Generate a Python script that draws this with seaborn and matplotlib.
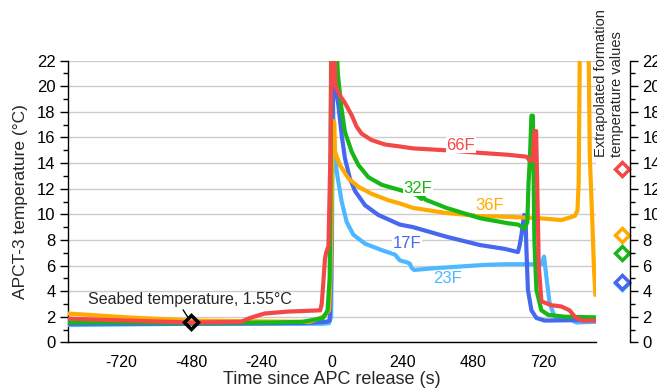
import numpy as np
import pandas as pd
import matplotlib
matplotlib.use('Agg')
import matplotlib.pyplot as plt
import seaborn as sns
from matplotlib.ticker import MultipleLocator
from matplotlib.transforms import blended_transform_factory

# Data (time in s, temperature in degC)
t_66F = [-900, -700, -480, -310, -280, -230, -150, -40, -35, -30, -24, -20, -12, -5, -2, 8, 12, 16, 27, 44,
         67, 84, 101, 135, 181, 231, 276, 390, 504, 600, 663, 674, 684, 690, 696, 700, 705, 714, 748, 782,
         810, 828, 850, 900]
T_66F = [1.85, 1.7, 1.55, 1.6, 1.9, 2.25, 2.4, 2.5, 3.0, 4.5, 6.5, 7.0, 7.5, 15, 23, 23, 20, 19.8, 19.3, 18.7,
         17.75, 16.85, 16.3, 15.8, 15.45, 15.3, 15.15, 15.0, 14.8, 14.65, 14.5, 14.2, 14.2, 16.5, 16.5, 12, 6, 3.2, 2.9, 2.8,
         2.5, 2.0, 1.7, 1.7]

t_32F = [-900, -700, -480, -200, -100, -30, -15, -8, -5, -3, 16, 20, 31, 44, 67, 90, 124, 170, 231, 290,
         305, 310, 318, 390, 504, 600, 634, 657, 666, 670, 675, 680, 685, 690, 697, 714, 737, 793, 900]
T_32F = [1.55, 1.55, 1.5, 1.55, 1.6, 1.9, 2.5, 5, 12, 23, 23, 21, 18.5, 16.45, 14.9, 13.85, 12.9, 12.3, 11.9, 11.5,
         11.2, 11.4, 11.15, 10.5, 9.7, 9.3, 9.2, 8.9, 9.4, 12.4, 14.5, 17.7, 17.7, 8, 4.1, 2.5, 2.15, 2.0, 1.95]

t_36F = [-900, -700, -480, -300, -100, -76, -40, -25, -10, -5, 0, 3, 8, 10, 27, 56, 90, 135, 192, 231,
         276, 390, 504, 600, 703, 782, 828, 837, 841, 845, 875, 879, 887, 893, 898]
T_36F = [2.25, 1.95, 1.7, 1.65, 1.6, 1.6, 1.9, 2.1, 2.5, 5, 12, 17.3, 17.2, 14.9, 13.85, 12.8, 12.15, 11.6, 11.1, 10.85,
         10.5, 10.1, 9.87, 9.8, 9.7, 9.55, 9.87, 10.3, 12.4, 23, 23, 14.5, 9.8, 5.9, 3.7]

t_17F = [-900, -480, -100, -20, -8, -3, 0, 5, 10, 22, 33, 44, 61, 79, 113, 158, 231, 276, 390, 504,
         589, 634, 640, 646, 655, 660, 663, 668, 680, 697, 725, 900]
T_17F = [1.45, 1.45, 1.5, 1.6, 1.7, 5, 15, 21, 20.1, 18.5, 16.2, 14.4, 12.8, 11.8, 10.7, 9.95, 9.2, 9.0, 8.25, 7.6,
         7.3, 7.05, 7.6, 8.4, 9.95, 9.5, 7.2, 4.1, 2.5, 1.9, 1.7, 1.75]

t_23F = [-900, -480, -30, -10, -3, 0, 3, 8, 15, 22, 33, 50, 73, 113, 170, 215, 231, 255, 265, 272,
         280, 344, 515, 589, 714, 723, 731, 742, 759, 816, 833, 900]
T_23F = [1.35, 1.45, 1.45, 1.5, 2, 8, 19, 15, 13.5, 12.5, 11.0, 9.4, 8.4, 7.7, 7.2, 6.85, 6.4, 6.25, 6.15, 5.8,
         5.65, 5.78, 6.04, 6.1, 6.1, 6.7, 5.1, 3.05, 2.0, 1.75, 1.55, 1.6]

probes = ['23F', '17F', '36F', '32F', '66F']
colors = {'66F': '#f44848', '32F': '#16b716', '36F': '#ffaa00', '17F': '#4468ee', '23F': '#4db8ff'}

# extrapolated formation temperatures (right side diamonds)
extrap_probe = ['66F', '36F', '32F', '23F', '17F']
extrap_temp = [13.5, 8.4, 7.0, 4.6, 4.75]

seabed_time = -480
seabed_temp = 1.55

# label positions for each probe
label_probe = ['66F', '32F', '36F', '17F', '23F']
label_t = [439, 293, 538, 255, 395]
label_T = [15.4, 12.05, 10.7, 7.7, 4.95]

series = {'66F': (t_66F, T_66F), '32F': (t_32F, T_32F), '36F': (t_36F, T_36F),
          '17F': (t_17F, T_17F), '23F': (t_23F, T_23F)}
df = pd.concat([pd.DataFrame({'time': tt, 'temp': TT, 'probe': p}) for p, (tt, TT) in series.items()],
               ignore_index=True)

sns.set_style('white')
plt.rcParams['font.family'] = ['Liberation Sans', 'DejaVu Sans']

fig = plt.figure(figsize=(6.57, 3.91), dpi=100)
ax = fig.add_axes([0.1035, 0.1245, 0.8036, 0.7203])

sns.lineplot(data=df, x='time', y='temp', hue='probe', hue_order=probes, palette=colors,
             sort=False, estimator=None, linewidth=3, legend=False, ax=ax, zorder=3)

ax.set_xlim(-900, 900)
ax.set_ylim(0, 22)
xt = list(range(-900, 901, 60))
ax.set_xticks(xt)
ax.set_xticklabels([str(v) if (v % 240 == 0 and abs(v) <= 720) else '' for v in xt])
ax.set_yticks(range(0, 23, 2))
ax.yaxis.set_minor_locator(MultipleLocator(1))
ax.grid(axis='y', color='#cccccc', lw=1)
ax.set_axisbelow(True)
for s in ['top', 'right']:
    ax.spines[s].set_visible(False)
for s in ['left', 'bottom']:
    ax.spines[s].set_color('black')
    ax.spines[s].set_linewidth(1)
ax.tick_params(axis='x', direction='out', length=5, width=1, colors='black', labelsize=11.5, pad=4)
ax.tick_params(axis='y', which='major', direction='out', length=6, width=1, colors='black', labelsize=12, pad=3)
ax.tick_params(axis='y', which='minor', direction='out', length=3.5, width=1, colors='black', left=True)
ax.set_xlabel('Time since APC release (s)', fontsize=13, labelpad=1)
ax.set_ylabel('APCT-3 temperature (°C)', fontsize=12.5, labelpad=6)

# right-hand axis
ax2 = ax.twinx()
ax2.set_ylim(0, 22)
ax2.set_yticks(range(0, 23, 2))
ax2.yaxis.set_minor_locator(MultipleLocator(1))
for s in ['top', 'left', 'bottom']:
    ax2.spines[s].set_visible(False)
ax2.spines['right'].set_position(('outward', 24.5))
ax2.spines['right'].set_color('black')
ax2.spines['right'].set_linewidth(1)
ax2.tick_params(axis='y', which='major', direction='out', length=6, width=1, colors='black', labelsize=12, pad=3)
ax2.tick_params(axis='y', which='minor', direction='out', length=3.5, width=1, colors='black', right=True)
ax2.grid(False)

# labels for the curves
for p, x, y in zip(label_probe, label_t, label_T):
    ax.text(x, y, p, color=colors[p], fontsize=12, ha='center', va='center', zorder=5,
            bbox=dict(facecolor='white', edgecolor='none', pad=0.5))

# seabed marker
ax.plot([seabed_time], [seabed_temp], marker='D', ms=7, mfc='none', mec='black', mew=2.5, zorder=6)
ax.annotate('Seabed temperature, 1.55°C', xy=(seabed_time, seabed_temp), xytext=(-485, 3.38),
            ha='center', va='center', fontsize=11.5, zorder=6,
            arrowprops=dict(arrowstyle='-', color='black', lw=1, shrinkA=0, shrinkB=5, relpos=(0.457, 0)))

# extrapolated formation temperature diamonds
tr = blended_transform_factory(ax.transAxes, ax.transData)
for p, v in zip(extrap_probe, extrap_temp):
    ax.plot([1.049], [v], marker='D', ms=7, mfc='white', mec=colors[p], mew=2.5,
            transform=tr, clip_on=False, zorder=6)
ax.text(1.024, 14.5, 'Extrapolated formation\ntemperature values', transform=tr, rotation=90,
        ha='center', va='bottom', multialignment='left', fontsize=10.5)

fig.savefig('out.png', dpi=100)
